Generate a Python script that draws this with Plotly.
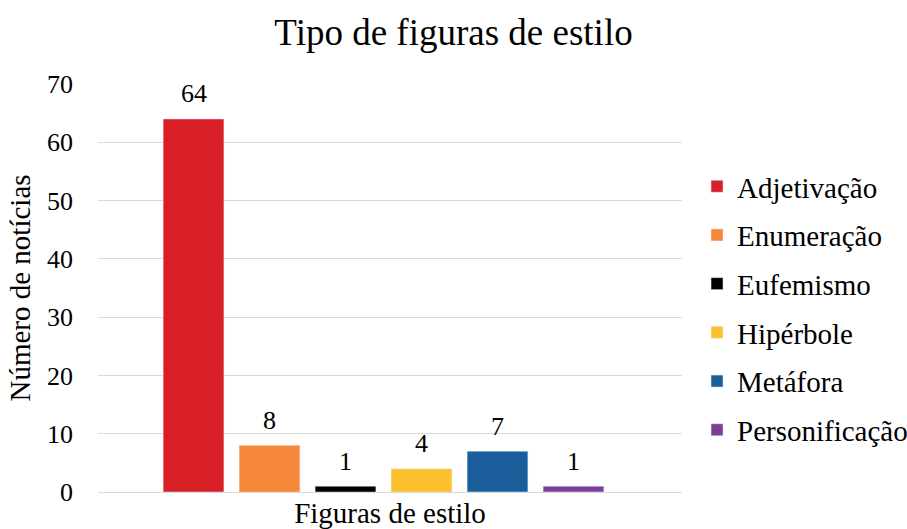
import plotly.graph_objects as go

categories = ["Adjetivação", "Enumeração", "Eufemismo", "Hipérbole", "Metáfora", "Personificação"]
values = [64, 8, 1, 4, 7, 1]
colors = ["#D91F26", "#F6873B", "#000000", "#FDC12E", "#1A5E9C", "#7B3F98"]
x_title = "Figuras de estilo"

fig = go.Figure()
for i, (name, v, c) in enumerate(zip(categories, values, colors)):
    fig.add_trace(go.Bar(
        x=[i], y=[v], name=name, marker_color=c, width=0.8,
        legendgroup=name, hoverinfo="name+y",
    ))
    fig.add_annotation(
        x=i, y=v, text=str(v), showarrow=False, yanchor="middle", yshift=25,
        font=dict(size=26, color="#000000", family="Liberation Serif"),
    )

fig.update_layout(
    width=907, height=529,
    barmode="overlay",
    paper_bgcolor="white", plot_bgcolor="white",
    font=dict(family="Liberation Serif", color="#000000", size=26),
    title=dict(text="Tipo de figuras de estilo", x=0.5, xanchor="center",
               y=1 - 32/529, yanchor="middle", font=dict(size=37)),
    margin=dict(l=98, r=225, t=84, b=37, autoexpand=False),
    showlegend=True,
    legend=dict(xref="container", x=0.7685, xanchor="left", y=0.45, yanchor="middle",
                traceorder="grouped", tracegroupgap=8,
                font=dict(size=29), itemwidth=30),
    xaxis=dict(showticklabels=False, showgrid=False, zeroline=False, showline=False,
               range=[-1.257, 6.428], automargin=False,
               title=dict(text=x_title, standoff=12, font=dict(size=29))),
    yaxis=dict(range=[0, 70], dtick=10, showgrid=True, gridcolor="#D9D9D9", gridwidth=1,
               zeroline=True, zerolinecolor="#D9D9D9", zerolinewidth=1, showline=False,
               ticks="", ticklabelstandoff=24, tickfont=dict(size=26),
               title=dict(text="Número de notícias", font=dict(size=29), standoff=7)),
)

fig.write_html("out.html", config={"displayModeBar": False},
               post_script="document.body.style.margin='0';")
